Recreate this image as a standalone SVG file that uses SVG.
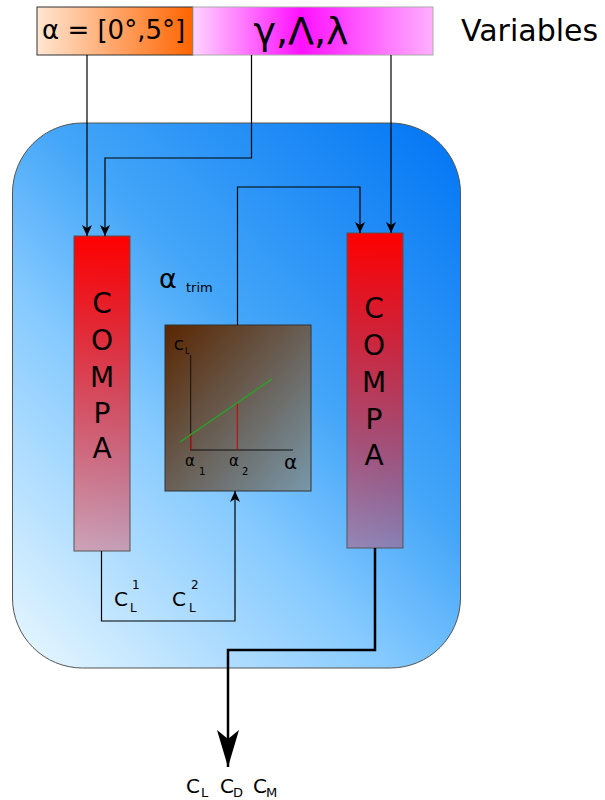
<svg xmlns="http://www.w3.org/2000/svg" width="605" height="800" viewBox="0 0 605 800">
<defs>
<linearGradient id="gBlue" gradientUnits="userSpaceOnUse" x1="460" y1="123" x2="-36" y2="619">
<stop offset="0" stop-color="#0074f4"/>
<stop offset="0.42" stop-color="#44a6f8"/>
<stop offset="0.62" stop-color="#86caff"/>
<stop offset="1" stop-color="#eaf8ff"/>
</linearGradient>
<linearGradient id="gOrange" x1="0" y1="0" x2="1" y2="0">
<stop offset="0" stop-color="#ffe6d2"/>
<stop offset="1" stop-color="#ff6400"/>
</linearGradient>
<linearGradient id="gPink" x1="0" y1="0" x2="1" y2="0">
<stop offset="0" stop-color="#ffd4ff"/>
<stop offset="0.45" stop-color="#ff10ff"/>
<stop offset="1" stop-color="#ffb0ff"/>
</linearGradient>
<linearGradient id="gRed" x1="0" y1="0" x2="0" y2="1">
<stop offset="0" stop-color="#ff0000" stop-opacity="1"/>
<stop offset="1" stop-color="#ff0000" stop-opacity="0.28"/>
</linearGradient>
<linearGradient id="gGraph" x1="0" y1="0" x2="1" y2="1">
<stop offset="0" stop-color="#5a2600"/>
<stop offset="1" stop-color="#7898aa"/>
</linearGradient>
<marker id="arr" markerUnits="userSpaceOnUse" markerWidth="12" markerHeight="12" viewBox="0 0 12 10" refX="11" refY="5" orient="auto">
<path d="M11,5 L0,0 L3,5 L0,10 Z" fill="#000"/>
</marker>
<marker id="bigArr" markerUnits="userSpaceOnUse" markerWidth="38" markerHeight="22" viewBox="0 0 38 22" refX="37" refY="11" orient="auto">
<path d="M37,11 L0,0 L9,11 L0,22 Z" fill="#000"/>
</marker>
<style>
text{font-family:"DejaVu Sans","Liberation Sans",sans-serif;fill:#000}
.conn{fill:none;stroke:#000;stroke-width:1.2}
.compa{font-size:28px;text-anchor:middle}
.box{stroke:#555;stroke-width:1}
</style>
</defs>

<g id="container">
<rect x="12.5" y="123" width="448" height="545" rx="70" ry="70" fill="url(#gBlue)" stroke="#555" stroke-width="1"/>
</g>

<g id="alpha-range">
<rect x="37" y="7" width="156" height="48" fill="url(#gOrange)" stroke="#333" stroke-width="1"/>
<text x="42" y="39" font-size="26">α = [0°,5°]</text>
</g>

<g id="angles">
<rect x="193" y="7" width="240" height="48" fill="url(#gPink)" stroke="#aaa" stroke-width="1"/>
<text x="301" y="44" font-size="38" text-anchor="middle">γ,Λ,λ</text>
</g>

<g id="variables-label">
<text x="461" y="41" font-size="30">Variables</text>
</g>

<g id="compa1">
<rect class="box" x="74" y="236" width="56" height="315" fill="url(#gRed)"/>
<text class="compa" x="102" y="313">C</text>
<text class="compa" x="102" y="350">O</text>
<text class="compa" x="102" y="387">M</text>
<text class="compa" x="102" y="423">P</text>
<text class="compa" x="102" y="458">A</text>
</g>

<g id="compa2">
<rect class="box" x="347" y="233" width="56" height="315" fill="url(#gRed)"/>
<text class="compa" x="374" y="318">C</text>
<text class="compa" x="374" y="355">O</text>
<text class="compa" x="374" y="392">M</text>
<text class="compa" x="374" y="429">P</text>
<text class="compa" x="374" y="465">A</text>
</g>

<g id="alpha-trim-label">
<text x="159" y="288" font-size="27">α</text>
<text x="186" y="292" font-size="13">trim</text>
</g>

<g id="graph">
<rect x="165" y="325" width="146" height="166" fill="url(#gGraph)" stroke="#333" stroke-width="1"/>
<line x1="190.7" y1="355" x2="190.7" y2="450" stroke="#111" stroke-width="1"/>
<line x1="190" y1="450" x2="293" y2="450" stroke="#111" stroke-width="1"/>
<line x1="190.7" y1="433" x2="190.7" y2="450" stroke="#c00" stroke-width="1"/>
<line x1="237.3" y1="403" x2="237.3" y2="450" stroke="#c00" stroke-width="1"/>
<line x1="180" y1="442" x2="272" y2="379" stroke="#2a2" stroke-width="1.3"/>
<text x="174" y="350" font-size="14">C</text>
<text x="185" y="354" font-size="8">L</text>
<text x="185" y="466" font-size="15">α</text>
<text x="199" y="475" font-size="10">1</text>
<text x="229" y="466" font-size="15">α</text>
<text x="242" y="475" font-size="10">2</text>
<text x="284" y="469" font-size="20">α</text>
</g>

<g id="cl-labels">
<text x="114" y="606" font-size="20">C</text>
<text x="132" y="589" font-size="12">1</text>
<text x="130" y="612" font-size="12">L</text>
<text x="172" y="606" font-size="20">C</text>
<text x="191" y="589" font-size="12">2</text>
<text x="189" y="612" font-size="12">L</text>
</g>

<g id="outputs">
<text x="186" y="793" font-size="20">C</text>
<text x="201" y="797" font-size="13">L</text>
<text x="220" y="793" font-size="20">C</text>
<text x="233" y="797" font-size="13">D</text>
<text x="253" y="793" font-size="20">C</text>
<text x="266" y="797" font-size="13">M</text>
</g>

<g id="connectors">
<path class="conn" d="M87,55 V236" marker-end="url(#arr)"/>
<path class="conn" d="M251.5,55 V158 H105 V236" marker-end="url(#arr)"/>
<path class="conn" d="M391,55 V233" marker-end="url(#arr)"/>
<path class="conn" d="M237.5,325 V187 H360 V233" marker-end="url(#arr)"/>
<path class="conn" d="M101.5,551 V621 H235 V491" marker-end="url(#arr)"/>
<path d="M375,548 V650 H228 V767" fill="none" stroke="#000" stroke-width="2.5" marker-end="url(#bigArr)"/>
</g>
</svg>
